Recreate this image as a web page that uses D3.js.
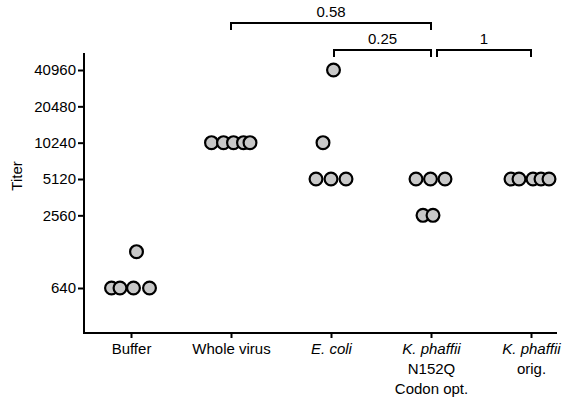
<!DOCTYPE html>
<html>
<head>
<meta charset="utf-8">
<script src="https://cdn.jsdelivr.net/npm/d3@7"></script>
<style>
  body { margin: 0; background: #fff; }
  text { font-family: "Liberation Sans", Arial, sans-serif; }
</style>
</head>
<body>
<div id="chart"></div>
<script>
// groups on the x axis
const groups = ["Buffer", "Whole virus", "E. coli", "K. phaffii N152Q", "K. phaffii orig."]
const groupLabelLines = [
    [["Buffer", false]],
    [["Whole virus", false]],
    [["E. coli", true]],
    [["K. phaffii", true], ["N152Q", false], ["Codon opt.", false]],
    [["K. phaffii", true], ["orig.", false]]
]
// titer per animal, with the horizontal jitter (fraction of group step)
const bufferTiters = [640, 640, 640, 1280, 640]
const bufferJitter = [-0.195, -0.11, 0.025, 0.055, 0.185]
const wholeVirusTiters = [10240, 10240, 10240, 10240, 10240]
const wholeVirusJitter = [-0.195, -0.075, 0.025, 0.125, 0.19]
const eColiTiters = [40960, 10240, 5120, 5120, 5120]
const eColiJitter = [0.025, -0.08, -0.15, 0.0, 0.15]
const n152qTiters = [5120, 5120, 5120, 2560, 2560]
const n152qJitter = [-0.15, -0.005, 0.14, -0.08, 0.02]
const origTiters = [5120, 5120, 5120, 5120, 5120]
const origJitter = [-0.2, -0.12, 0.02, 0.1, 0.18]

const yTicks = [640, 2560, 5120, 10240, 20480, 40960]

// pairwise comparisons: [left group, right group, p value, level]
const comparisons = [
    ["Whole virus", "K. phaffii N152Q", "0.58", 1],
    ["E. coli", "K. phaffii N152Q", "0.25", 0],
    ["K. phaffii N152Q", "K. phaffii orig.", "1", 0]
]

const width = 566, height = 397
const axisLeft = 84, axisRight = 557, axisTop = 53, axisBottom = 333

const svg = d3.select("#chart").append("svg")
    .attr("width", width)
    .attr("height", height)

const x = d3.scalePoint()
    .domain(groups)
    .range([131, 531])
const step = 100

// log2 scale, 640 at y=288 and 40960 at y=70, then stretched to the axis length
const y = d3.scaleLog().base(2)
    .domain([640, 40960])
    .range([288, 70])
y.domain([y.invert(axisBottom), y.invert(axisTop)]).range([axisBottom, axisTop])

// y axis
const yAxisG = svg.append("g")
    .attr("transform", "translate(" + axisLeft + ",0)")
    .call(d3.axisLeft(y).tickValues(yTicks).tickFormat(d3.format("d")).tickSize(6).tickPadding(2))
yAxisG.select(".domain").attr("d", "M0," + axisTop + "V" + axisBottom)
    .attr("stroke", "#000").attr("stroke-width", 2)
yAxisG.selectAll(".tick line").attr("stroke", "#000").attr("stroke-width", 2)
yAxisG.selectAll(".tick text")
    .attr("font-size", 15)
    .attr("fill", "#000")
    .attr("font-family", "Liberation Sans, Arial, sans-serif")

// x axis
const xAxisG = svg.append("g")
    .attr("transform", "translate(0," + axisBottom + ")")
    .call(d3.axisBottom(x).tickSize(5).tickFormat(""))
xAxisG.select(".domain").attr("d", "M" + (axisLeft - 1) + ",0H" + axisRight)
    .attr("stroke", "#000").attr("stroke-width", 2)
xAxisG.selectAll(".tick line").attr("stroke", "#000").attr("stroke-width", 2)

xAxisG.selectAll(".tick").each(function (d, i) {
    const t = d3.select(this).append("text")
        .attr("fill", "#000")
        .attr("font-size", 15)
        .attr("text-anchor", "middle")
        .attr("font-family", "Liberation Sans, Arial, sans-serif")
    groupLabelLines[i].forEach((line, j) => {
        t.append("tspan")
            .attr("x", 0)
            .attr("y", 21 + j * 20)
            .attr("font-style", line[1] ? "italic" : "normal")
            .text(line[0])
    })
})

svg.append("text")
    .attr("transform", "translate(22,176) rotate(-90)")
    .attr("text-anchor", "middle")
    .attr("font-size", 15)
    .attr("fill", "#000")
    .text("Titer")

// points
const seriesTiters = [bufferTiters, wholeVirusTiters, eColiTiters, n152qTiters, origTiters]
const seriesJitter = [bufferJitter, wholeVirusJitter, eColiJitter, n152qJitter, origJitter]
let points = []
groups.forEach((g, i) => {
    seriesTiters[i].forEach((v, j) => {
        points.push({ group: g, titer: v, jitter: seriesJitter[i][j] })
    })
})

svg.append("g").selectAll("circle")
    .data(points)
    .enter()
    .append("circle")
    .attr("cx", d => x(d.group) + d.jitter * step)
    .attr("cy", d => y(d.titer))
    .attr("r", 6.4)
    .attr("fill", "#c8c8c8")
    .attr("stroke", "#000")
    .attr("stroke-width", 2.2)

// significance brackets
const levelY = [50, 23]
const bracketG = svg.append("g")
comparisons.forEach((c, i) => {
    const shared = comparisons.some((o, k) => k !== i && o[1] === c[0])
    const x1 = x(c[0]) + (shared ? 6 : (c[3] === 0 ? 3 : 0))
    const x2 = x(c[1])
    const by = levelY[c[3]]
    bracketG.append("path")
        .attr("d", "M" + x1 + "," + (by + 7) + "V" + by + "H" + x2 + "V" + (by + 7))
        .attr("fill", "none")
        .attr("stroke", "#000")
        .attr("stroke-width", 2)
    bracketG.append("text")
        .attr("x", (x1 + x2) / 2)
        .attr("y", by - 6)
        .attr("text-anchor", "middle")
        .attr("font-size", 15)
        .attr("fill", "#000")
        .text(c[2])
})
</script>
</body>
</html>
